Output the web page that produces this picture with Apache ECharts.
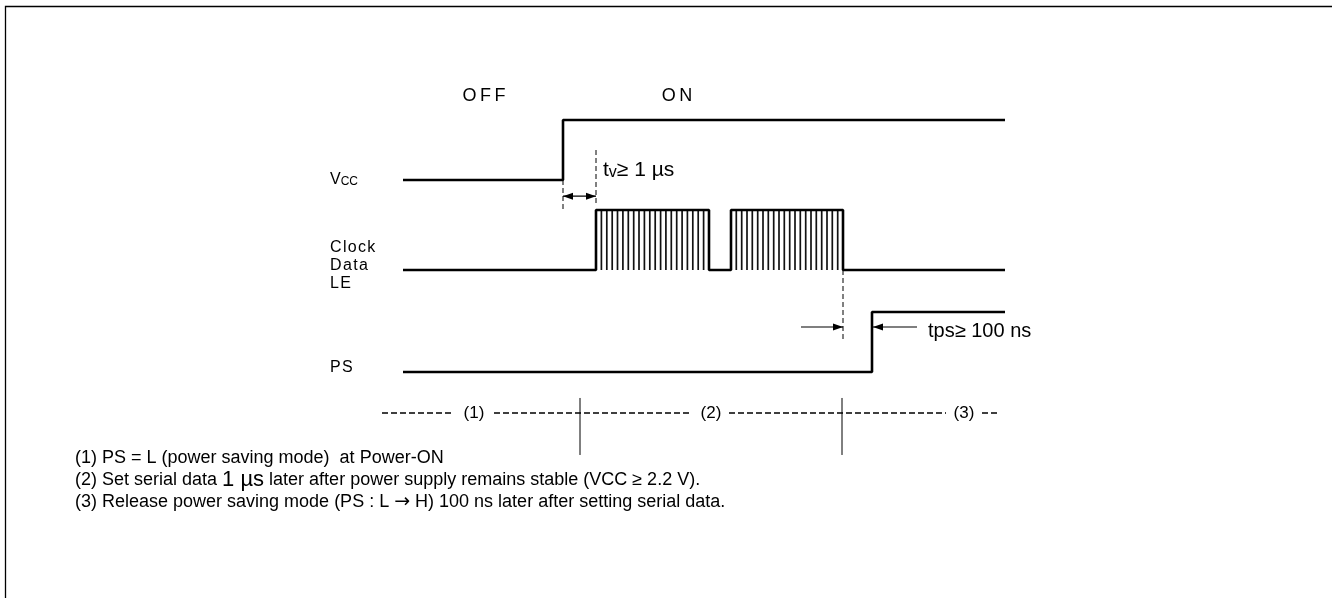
<!DOCTYPE html>
<html>
<head>
<meta charset="utf-8">
<script src="https://cdn.jsdelivr.net/npm/echarts@6/dist/echarts.min.js"></script>
<style>
  html, body { margin: 0; padding: 0; background: #fff; }
  #chart { width: 1332px; height: 598px; }
</style>
</head>
<body>
<div id="chart"></div>
<script>
// t = time along the diagram (0 = start of the traces), v = vertical level
// each signal row sits on a base level and swings by 1 when high
var vccBase = 5, clockBase = 3.5, psBase = 1.8, phaseRow = 1.117;

var vccWave = [[0, 0], [160, 1], [602, 1]];
var clockWave = [[0, 0], [193, 1], [306, 0], [328, 1], [440, 0], [602, 0]];
var psWave = [[0, 0], [469, 1], [602, 1]];
// clock edges inside the two serial-data bursts
var clockTicks = [198.4, 203.8, 209.2, 214.5, 219.9, 225.3, 230.7, 236.0, 241.4, 246.8,
  252.2, 257.6, 262.9, 268.3, 273.7, 279.1, 284.4, 289.8, 295.2, 300.6,
  333.3, 338.7, 344.0, 349.3, 354.7, 360.0, 365.3, 370.7, 376.0, 381.3,
  386.7, 392.0, 397.3, 402.7, 408.0, 413.3, 418.7, 424.0, 429.3, 434.7];

// dashed timing markers: [t, vTop, vBottom]
var markers = [[160, 5.0, 4.47], [193, 5.5, 4.58], [440, 3.5, 2.31]];
// dimension arrows: [tFrom, tTo, v, doubleHeaded]
var arrows = [[160, 193, 4.73, 1], [398, 440, 2.55, 0], [514, 470, 2.55, 0]];
// phase row: dashed pieces and solid dividers
var phaseDashes = [[-21, 50], [91, 289], [326, 543], [579, 596]];
var phaseDividers = [177, 439];
var phaseTop = 1.367, phaseBottom = 0.417;

var stateLabels = ['O\u2009F\u2009F', 'O\u2009N'];
var stateT = [81, 274];
var stateV = 6.4;
var signalLabels = ['{n|V}{s|CC}', 'C\u200Al\u200Ao\u200Ac\u200Ak', 'D\u200Aa\u200At\u200Aa', 'L\u200AE', 'P\u200AS'];
var signalV = [5, 3.87, 3.57, 3.28, 1.87];
var signalT = -73;
var phaseLabels = ['(1)', '(2)', '(3)'];
var phaseT = [71, 308, 561];
var tvLabel = '{n|t}{s|v}{n|≥ 1 µs}';
var tvPos = [200, 5.17];
var tpsLabel = 'tps≥ 100 ns';
var tpsPos = [525, 2.47];
var notes = [
  '(1) PS = L (power saving mode)  at Power-ON',
  '(2) Set serial data {b|1 µs} later after power supply remains stable (VCC ≥ 2.2 V).',
  '(3) Release power saving mode (PS : L {a|→} H) 100 ns later after setting serial data.'
];
var noteT = -328;
var noteV = [0.367, 0, -0.367];

var FONT = '"Liberation Sans", Arial, Helvetica, sans-serif';

function wave(points, base) {
  return points.map(function (p) { return [p[0], base + p[1]]; });
}

function waveSeries(name, points, base) {
  return {
    name: name, type: 'line', step: 'end', symbol: 'none', silent: true,
    lineStyle: { color: '#000', width: 2.6 },
    data: wave(points, base)
  };
}

// texts placed through the axes
var textItems = [];
stateLabels.forEach(function (s, i) { textItems.push({ t: stateT[i], v: stateV, text: s, size: 18, align: 'center' }); });
signalLabels.forEach(function (s, i) { textItems.push({ t: signalT, v: signalV[i], text: s, size: 16, align: 'left' }); });
phaseLabels.forEach(function (s, i) { textItems.push({ t: phaseT[i], v: phaseRow, text: s, size: 17, align: 'center' }); });
textItems.push({ t: tvPos[0], v: tvPos[1], text: tvLabel, size: 21, align: 'left' });
textItems.push({ t: tpsPos[0], v: tpsPos[1], text: tpsLabel, size: 20, align: 'left' });
notes.forEach(function (s, i) { textItems.push({ t: noteT, v: noteV[i], text: s, size: 18, align: 'left' }); });

var chart = echarts.init(document.getElementById('chart'));
chart.setOption({
  animation: false,
  backgroundColor: '#fff',
  grid: { left: 73, right: 0, top: 0, bottom: 58 },
  xAxis: { type: 'value', min: -330, max: 929, show: false },
  yAxis: { type: 'value', min: -1, max: 8, show: false },
  graphic: [{
    type: 'rect', silent: true,
    shape: { x: 5.5, y: 6.5, width: 1400, height: 700 },
    style: { fill: null, stroke: '#000', lineWidth: 1.3 }
  }],
  series: [
    waveSeries('Vcc', vccWave, vccBase),
    waveSeries('Clock', clockWave, clockBase),
    waveSeries('PS', psWave, psBase),
    {
      name: 'clock edges', type: 'custom', silent: true,
      data: clockTicks.map(function (t) { return [t, clockBase]; }),
      renderItem: function (params, api) {
        var a = api.coord([api.value(0), clockBase]);
        var b = api.coord([api.value(0), clockBase + 1]);
        return { type: 'line', shape: { x1: a[0], y1: a[1], x2: b[0], y2: b[1] },
          style: { stroke: '#111', lineWidth: 1.7 } };
      }
    },
    {
      name: 'markers', type: 'custom', silent: true,
      data: markers,
      renderItem: function (params, api) {
        var a = api.coord([api.value(0), api.value(1)]);
        var b = api.coord([api.value(0), api.value(2)]);
        return { type: 'line', shape: { x1: a[0], y1: a[1], x2: b[0], y2: b[1] },
          style: { stroke: '#000', lineWidth: 1, lineDash: [5, 3] } };
      }
    },
    {
      name: 'arrows', type: 'custom', silent: true,
      data: arrows,
      renderItem: function (params, api) {
        var a = api.coord([api.value(0), api.value(2)]);
        var b = api.coord([api.value(1), api.value(2)]);
        var dir = b[0] > a[0] ? 1 : -1;
        var L = 10, W = 3.5;
        var kids = [
          { type: 'line', shape: { x1: a[0], y1: a[1], x2: b[0], y2: b[1] }, style: { stroke: '#000', lineWidth: 1.2 } },
          { type: 'polygon', shape: { points: [[b[0], b[1]], [b[0] - dir * L, b[1] - W], [b[0] - dir * L, b[1] + W]] }, style: { fill: '#000' } }
        ];
        if (api.value(3) === 1) {
          kids.push({ type: 'polygon', shape: { points: [[a[0], a[1]], [a[0] + dir * L, a[1] - W], [a[0] + dir * L, a[1] + W]] }, style: { fill: '#000' } });
        }
        return { type: 'group', children: kids };
      }
    },
    {
      name: 'phase dashes', type: 'custom', silent: true,
      data: phaseDashes,
      renderItem: function (params, api) {
        var a = api.coord([api.value(0), phaseRow]);
        var b = api.coord([api.value(1), phaseRow]);
        return { type: 'line', shape: { x1: a[0], y1: a[1], x2: b[0], y2: b[1] },
          style: { stroke: '#000', lineWidth: 1.5, lineDash: [6, 3] } };
      }
    },
    {
      name: 'phase dividers', type: 'custom', silent: true,
      data: phaseDividers.map(function (t) { return [t, phaseTop]; }),
      renderItem: function (params, api) {
        var a = api.coord([api.value(0), phaseTop]);
        var b = api.coord([api.value(0), phaseBottom]);
        return { type: 'line', shape: { x1: a[0], y1: a[1], x2: b[0], y2: b[1] },
          style: { stroke: '#000', lineWidth: 1 } };
      }
    },
    {
      name: 'texts', type: 'custom', silent: true,
      data: textItems.map(function (d) { return [d.t, d.v]; }),
      renderItem: function (params, api) {
        var d = textItems[params.dataIndex];
        var p = api.coord([d.t, d.v]);
        return {
          type: 'text', x: p[0], y: p[1],
          style: {
            text: d.text, fill: '#000',
            fontFamily: FONT, fontSize: d.size,
            align: d.align, verticalAlign: 'middle',
            rich: {
              n: { fontFamily: FONT, fontSize: d.size, verticalAlign: 'bottom' },
              s: { fontFamily: FONT, fontSize: Math.round(d.size * 0.75), verticalAlign: 'bottom' },
              b: { fontFamily: FONT, fontSize: 22, verticalAlign: 'bottom' },
              a: { fontFamily: '"DejaVu Sans", sans-serif', fontSize: 19 }
            }
          }
        };
      }
    }
  ]
});
</script>
</body>
</html>
